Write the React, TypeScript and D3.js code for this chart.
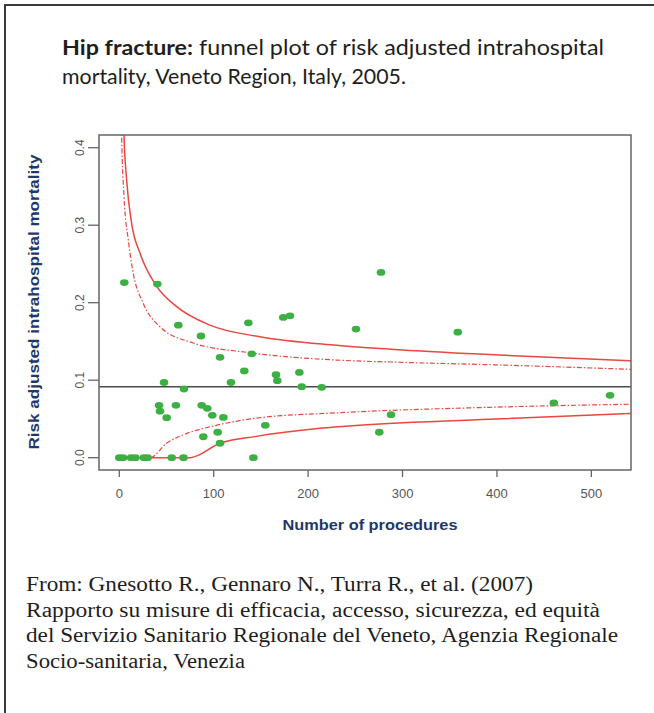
import React, { useEffect, useRef } from 'react';
import * as d3 from 'd3';

// hospitals: [number of procedures, risk adjusted mortality]
const hospitals: [number, number][] = [
  [5.3, 0.226], [40.3, 0.224], [62.5, 0.171], [86.5, 0.157], [136.7, 0.174],
  [173.7, 0.181], [180.8, 0.183], [250.7, 0.166], [277.2, 0.239], [358.5, 0.162],
  [106.7, 0.1295], [140.3, 0.134], [132.4, 0.112], [166, 0.107], [167.4, 0.0994],
  [190.7, 0.11], [193.2, 0.0916], [214.4, 0.0908], [47.4, 0.097], [118.3, 0.097],
  [68.5, 0.0886], [42.1, 0.0676], [43.1, 0.06], [50.2, 0.0516], [60, 0.0676],
  [87.3, 0.0676], [93.2, 0.0637], [98.5, 0.0547], [110.2, 0.052], [154.7, 0.0418],
  [89, 0.027], [104.2, 0.0328], [106.7, 0.0186], [275.4, 0.0328], [287.8, 0.0555],
  [460.2, 0.0706], [519.8, 0.0805],
  [0, 0], [4, 0], [12.5, 0], [17, 0], [26, 0], [30, 0], [55.5, 0], [68, 0], [142, 0],
];

const regionalMean = 0.0916;

// control limits
const upper998: [number, number][] = [
  [4.8, 0.44], [5.0, 0.416], [7.8, 0.358], [13.1, 0.302], [21.9, 0.264], [39.6, 0.221],
  [60.8, 0.195], [96, 0.171], [149, 0.156], [230, 0.145], [300, 0.139], [392, 0.133], [542, 0.125],
];
const upper95: [number, number][] = [
  [2.3, 0.44], [2.5, 0.416], [5, 0.337], [9.5, 0.281], [14.8, 0.238], [25.4, 0.199],
  [43, 0.169], [78.4, 0.148], [138, 0.1355], [230, 0.126], [300, 0.123], [392, 0.12], [542, 0.114],
];
const lower95: [number, number][] = [
  [0, 0], [32.5, 0], [50, 0.0186], [71, 0.031], [100, 0.041], [145, 0.051],
  [233, 0.058], [392, 0.065], [542, 0.069],
];
const lower998: [number, number][] = [
  [0, 0], [75, 0], [106.7, 0.0186], [145, 0.0275], [205, 0.037], [233, 0.04],
  [392, 0.0495], [542, 0.057],
];

const xTicks = [0, 100, 200, 300, 400, 500];
const yTicks = [0.0, 0.1, 0.2, 0.3, 0.4];

const titleBold = 'Hip fracture:';
const titleRest = ' funnel plot of risk adjusted intrahospital';
const titleLine2 = 'mortality, Veneto Region, Italy, 2005.';
const sourceLines = [
  'From: Gnesotto R., Gennaro N., Turra R., et al. (2007)',
  'Rapporto su misure di efficacia, accesso, sicurezza, ed equità',
  'del Servizio Sanitario Regionale del Veneto, Agenzia Regionale',
  'Socio-sanitaria, Venezia',
];
const sourceWidths = [507, 574, 592, 219];

export default function App() {
  const ref = useRef<SVGSVGElement>(null);

  useEffect(() => {
    if (!ref.current) return;
    const svg = d3.select(ref.current);
    svg.selectAll('*').remove();

    const W = 654, H = 713;
    const box = { left: 99, right: 631, top: 135, bottom: 470 };

    svg.append('rect').attr('width', W).attr('height', H).attr('fill', '#fff');

    // frame (top + left edges visible)
    svg.append('path')
      .attr('d', `M5,${H + 5} V5 H${W + 5}`)
      .attr('fill', 'none')
      .attr('stroke', '#3a3a3a')
      .attr('stroke-width', 2);

    // title
    const t1 = svg.append('text')
      .attr('x', 62).attr('y', 55)
      .attr('font-family', 'Lato, "Open Sans", sans-serif')
      .attr('font-size', 21)
      .attr('fill', '#1e1e1e')
      .attr('textLength', 542)
      .attr('lengthAdjust', 'spacingAndGlyphs');
    t1.append('tspan').attr('font-weight', 700).text(titleBold);
    t1.append('tspan').text(titleRest);

    svg.append('text')
      .attr('x', 62).attr('y', 84)
      .attr('font-family', 'Lato, "Open Sans", sans-serif')
      .attr('font-size', 21)
      .attr('fill', '#1e1e1e')
      .attr('textLength', 344)
      .attr('lengthAdjust', 'spacingAndGlyphs')
      .text(titleLine2);

    const x = d3.scaleLinear().domain([-21.5, 542]).range([box.left, box.right]);
    const y = d3.scaleLinear().domain([-0.0159, 0.4164]).range([box.bottom, box.top]);

    svg.append('clipPath').attr('id', 'plotClip')
      .append('rect')
      .attr('x', box.left).attr('y', box.top)
      .attr('width', box.right - box.left).attr('height', box.bottom - box.top);

    const g = svg.append('g').attr('clip-path', 'url(#plotClip)');

    const line = d3.line<[number, number]>()
      .x(d => x(d[0]))
      .y(d => y(d[1]))
      .curve(d3.curveMonotoneX);

    const limits: { data: [number, number][]; dash: string | null }[] = [
      { data: upper998, dash: null },
      { data: lower998, dash: null },
      { data: upper95, dash: '5,2,1.5,2' },
      { data: lower95, dash: '5,2,1.5,2' },
    ];
    limits.forEach(l => {
      g.append('path')
        .attr('d', line(l.data))
        .attr('fill', 'none')
        .attr('stroke', '#e9473f')
        .attr('stroke-width', l.dash ? 1.2 : 1.5)
        .attr('stroke-dasharray', l.dash);
    });

    // regional mean
    g.append('line')
      .attr('x1', box.left).attr('x2', box.right)
      .attr('y1', y(regionalMean)).attr('y2', y(regionalMean))
      .attr('stroke', '#4a4a4a')
      .attr('stroke-width', 1.5);

    g.selectAll('.pt')
      .data(hospitals)
      .enter().append('ellipse')
      .attr('class', 'pt')
      .attr('cx', d => x(d[0]))
      .attr('cy', d => y(d[1]))
      .attr('rx', 4.3)
      .attr('ry', 3.4)
      .attr('fill', '#3cb043');

    // plot box
    svg.append('rect')
      .attr('x', box.left).attr('y', box.top)
      .attr('width', box.right - box.left).attr('height', box.bottom - box.top)
      .attr('fill', 'none')
      .attr('stroke', '#666')
      .attr('stroke-width', 1.5);

    // x axis
    const xa = svg.append('g');
    xTicks.forEach(v => {
      xa.append('line')
        .attr('x1', x(v)).attr('x2', x(v))
        .attr('y1', box.bottom).attr('y2', box.bottom + 7)
        .attr('stroke', '#666').attr('stroke-width', 1.3);
      xa.append('text')
        .attr('x', x(v)).attr('y', 498)
        .attr('text-anchor', 'middle')
        .attr('font-family', '"Liberation Sans", Arial, sans-serif')
        .attr('font-size', 13)
        .attr('fill', '#555')
        .text(v);
    });

    // y axis
    const ya = svg.append('g');
    yTicks.forEach(v => {
      ya.append('line')
        .attr('x1', box.left - 11).attr('x2', box.left)
        .attr('y1', y(v)).attr('y2', y(v))
        .attr('stroke', '#666').attr('stroke-width', 1.3);
      ya.append('text')
        .attr('transform', `translate(84,${y(v)}) rotate(-90)`)
        .attr('text-anchor', 'middle')
        .attr('font-family', '"Liberation Sans", Arial, sans-serif')
        .attr('font-size', 12)
        .attr('fill', '#555')
        .text(v.toFixed(1));
    });

    svg.append('text')
      .attr('x', 370).attr('y', 530)
      .attr('text-anchor', 'middle')
      .attr('font-family', '"Liberation Sans", Arial, sans-serif')
      .attr('font-weight', 700)
      .attr('font-size', 15)
      .attr('fill', '#1f3868')
      .attr('textLength', 175)
      .attr('lengthAdjust', 'spacingAndGlyphs')
      .text('Number of procedures');

    svg.append('text')
      .attr('transform', `translate(39,302) rotate(-90)`)
      .attr('text-anchor', 'middle')
      .attr('font-family', '"Liberation Sans", Arial, sans-serif')
      .attr('font-weight', 700)
      .attr('font-size', 14.5)
      .attr('fill', '#1f3868')
      .attr('textLength', 295)
      .attr('lengthAdjust', 'spacingAndGlyphs')
      .text('Risk adjusted intrahospital mortality');

    // source
    sourceLines.forEach((s, i) => {
      svg.append('text')
        .attr('x', 26).attr('y', 591 + i * 25.7)
        .attr('font-family', '"Liberation Serif", "DejaVu Serif", serif')
        .attr('font-size', 20.5)
        .attr('fill', '#1e1e1e')
        .attr('textLength', sourceWidths[i])
        .attr('lengthAdjust', 'spacingAndGlyphs')
        .text(s);
    });
  }, []);

  return (
    <svg
      ref={ref}
      width={654}
      height={713}
      style={{ position: 'absolute', left: 0, top: 0 }}
    />
  );
}
